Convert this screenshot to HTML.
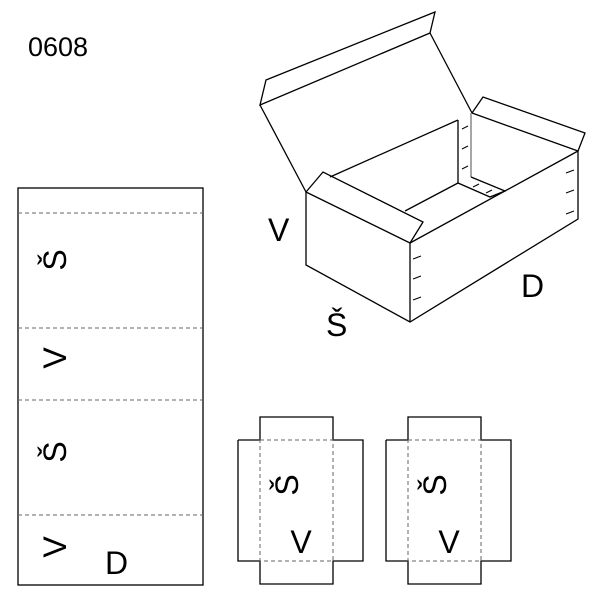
<!DOCTYPE html>
<html><head><style>body{margin:0;background:#fff}svg{display:block}text{font-family:"Liberation Sans",sans-serif;fill:#000}</style></head><body>
<svg width="600" height="600" viewBox="0 0 600 600" xmlns="http://www.w3.org/2000/svg">
<g fill="none" stroke="#000" stroke-width="1.3">
<polygon points="266,80 435,12 430,33 260,105" fill="#fff"/>
<line x1="260" y1="105" x2="306" y2="192"/>
<line x1="430" y1="33" x2="472" y2="113"/>
<polyline points="472,113 483,97 585,133 578,151"/>
<line x1="472" y1="113" x2="578" y2="151"/>
<line x1="330" y1="177" x2="458" y2="120"/>
<line x1="458" y1="120" x2="458" y2="183"/>
<line x1="471" y1="113" x2="471" y2="177" stroke="#777"/>
<line x1="405" y1="211" x2="458" y2="183"/>
<polyline points="458,183 490,197 505,191 471,177"/>
<polyline points="306,192 306,265 410,322 578,219 578,151"/>
<line x1="410" y1="243" x2="410" y2="322"/>
<line x1="306" y1="192" x2="410" y2="243"/>
<line x1="410" y1="243" x2="578" y2="151"/>
<polyline points="306,192 323,172 423,222 410,243"/>
<g stroke-width="1">
<line x1="413" y1="259" x2="421" y2="256"/><line x1="413" y1="279" x2="421" y2="276"/><line x1="413" y1="300" x2="421" y2="297"/>
<line x1="566" y1="173" x2="574" y2="170"/><line x1="566" y1="193" x2="574" y2="190"/><line x1="566" y1="214" x2="574" y2="211"/>
<line x1="462" y1="129" x2="468" y2="126"/><line x1="462" y1="149" x2="468" y2="146"/><line x1="462" y1="169" x2="468" y2="166"/>
<line x1="473" y1="187" x2="479" y2="184"/><line x1="486" y1="193" x2="492" y2="190"/>
</g>
<rect x="18" y="188" width="185" height="397"/>
<g stroke="#666" stroke-dasharray="4,3" stroke-width="1">
<line x1="18" y1="213" x2="203" y2="213"/><line x1="18" y1="328" x2="203" y2="328"/>
<line x1="18" y1="400" x2="203" y2="400"/><line x1="18" y1="515" x2="203" y2="515"/>
</g>
<polyline points="238,440 260,440 260,417 333,417 333,440 363,440 363,561 333,561 333,584 260,584 260,561 238,561 238,440"/>
<rect x="260" y="440" width="73" height="121" stroke="#666" stroke-dasharray="4,3" stroke-width="1"/>
<polyline points="386,440 408,440 408,417 481,417 481,440 511,440 511,561 481,561 481,584 408,584 408,561 386,561 386,440"/>
<rect x="408" y="440" width="73" height="121" stroke="#666" stroke-dasharray="4,3" stroke-width="1"/>
</g>
<g font-size="32">
<text x="28" y="56" font-size="27">0608</text>
<text x="268" y="241">V</text>
<text x="326" y="336">Š</text>
<text x="521" y="297">D</text>
<text x="105" y="574">D</text>
<text transform="translate(66,260) rotate(-90)" text-anchor="middle">Š</text>
<text transform="translate(66,358) rotate(-90)" text-anchor="middle">V</text>
<text transform="translate(66,452) rotate(-90)" text-anchor="middle">Š</text>
<text transform="translate(66,547) rotate(-90)" text-anchor="middle">V</text>
<text transform="translate(298,485) rotate(-90)" text-anchor="middle">Š</text>
<text x="301" y="553" text-anchor="middle">V</text>
<text transform="translate(446,485) rotate(-90)" text-anchor="middle">Š</text>
<text x="449" y="553" text-anchor="middle">V</text>
</g>
</svg>
</body></html>
